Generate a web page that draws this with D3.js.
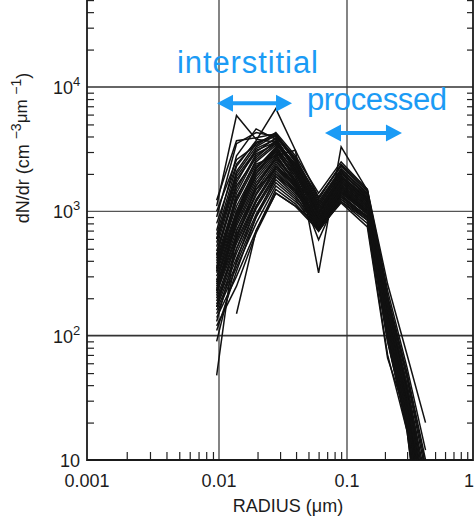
<!DOCTYPE html>
<html>
<head>
<meta charset="utf-8">
<script src="https://cdn.jsdelivr.net/npm/d3@7"></script>
<style>
  body { margin: 0; background: #fff; }
  svg { display: block; }
  text { font-family: "Liberation Sans", Arial, Helvetica, sans-serif; fill: #1c1c1c; }
</style>
</head>
<body>
<svg id="chart" width="474" height="516"></svg>
<script>
// radius bins (um)
const radius = [0.0096, 0.0137, 0.0195, 0.0278, 0.0395, 0.06, 0.09, 0.145, 0.21, 0.3, 0.42];

// dN/dr for every sample, one row per size distribution (null = no value)
const samples = [
  [1230, 3700, 3900, 4200, 2600, 1200, 2200, 1400, 200, 45, 8],
  [1100, 5900, 3800, 3600, 2400, 1100, 2000, 1350, 180, 38, 6],
  [900, 3500, 4300, 4000, 2500, 1150, 2100, 1300, 170, 35, 5],
  [700, 2800, 4600, 3800, 2300, 1050, 1900, 1250, 160, 30, 4],
  [650, 2300, 3700, 6700, 3100, 1300, 2300, 1450, 210, 50, 10],
  [600, 2000, 3300, 4100, 2700, 1250, 2400, 1500, 260, 70, 20],
  [520, 1800, 3000, 3900, 2200, 950, 1800, 1200, 150, 28, 3],
  [480, 1600, 2700, 3700, 2100, 900, 1700, 1150, 140, 26, 3],
  [450, 1500, 2900, 3500, 2300, 1000, 1850, 1250, 155, 30, 4],
  [420, 1300, 2500, 3400, 2000, 850, 1600, 1100, 130, 24, 2],
  [400, 1200, 2400, 2800, 3100, 320, 3300, 1480, 190, 40, 7],
  [380, 1100, 2200, 3200, 1900, 800, 1550, 1050, 120, 22, 2],
  [360, 1000, 2100, 3100, 1800, 590, 1500, 1000, 115, 20, 2],
  [340, 950, 2000, 3000, 1900, 750, 1450, 1000, 110, 20, 2],
  [320, 900, 1900, 2900, 1700, 720, 1400, 950, 105, 19, 1.5],
  [300, 850, 1800, 2800, 1750, 780, 1500, 1020, 125, 24, 3],
  [280, 800, 1700, 2700, 1700, 700, 1350, 900, 100, 18, 1.5],
  [260, 760, 1600, 2600, 1600, 820, 1600, 1080, 135, 27, 3.5],
  [250, 700, 1500, 2500, 1650, 760, 1450, 980, 120, 23, 2.5],
  [240, 650, 1400, 2400, 1550, 740, 1400, 960, 110, 21, 2],
  [230, 620, 1350, 2300, 1600, 880, 1650, 1120, 145, 30, 4],
  [220, 580, 1250, 2200, 1500, 700, 1300, 920, 100, 19, 1.5],
  [200, 550, 1200, 2100, 1450, 710, 1250, 880, 95, 17, 1.2],
  [190, 500, 1100, 2000, 1400, 850, 1550, 1050, 130, 26, 3],
  [180, 460, 1050, 1900, 1350, 720, 1200, 800, 70, 17, 1],
  [170, 420, 950, 1800, 1300, 760, 1350, 900, 90, 20, 2],
  [160, 380, 900, 1700, 1250, 690, 1250, 850, 90, 18, 1.5],
  [150, 355, 800, 1600, 1200, 800, 1450, 950, 115, 22, 2.5],
  [140, 300, 700, 1500, 1150, 720, 1170, 750, 66, 22, 6],
  [120, 250, 670, 1400, 1100, 780, 1300, 880, 100, 20, 2],
  [48, 700, 1500, 2200, 1600, 900, 1700, 1150, 150, 30, 4],
  [90, 400, 1100, 2000, 1500, 850, 1600, 1100, 140, 28, 3],
  [null, 150, 700, 1400, 1100, 700, 1200, 850, 95, 19, 1.5],
  [1000, 2600, 3400, 4300, 2800, 1400, 2500, 1500, 230, 55, 12],
  [800, 2400, 3600, 4000, 2600, 1300, 2350, 1450, 200, 48, 9],
  [560, 1900, 3100, 3600, 2400, 1100, 2050, 1350, 175, 36, 5],
  [130, 500, 1200, 2300, 1700, 950, 1800, 1200, 160, 32, 4],
  [210, 850, 2000, 3200, 2100, 1000, 1900, 1250, 165, 33, 4.5],
  [330, 1250, 2600, 3500, 2200, 1050, 1950, 1280, 170, 34, 5],
  [270, 1000, 2300, 3000, 2000, 950, 1750, 1180, 150, 29, 3.5],
  [350, 1400, 2800, 3600, 2150, 980, 1880, 1220, 145, 27, 3],
  [230, 900, 2200, 3300, 2050, 900, 1700, 1150, 135, 25, 2.5],
  [170, 600, 1600, 2700, 1800, 820, 1500, 1050, 120, 24, 2.5],
  [440, 1700, 3200, 3800, 2300, 1000, 1900, 1300, 165, 32, 4],
  [110, 330, 900, 1900, 1450, 800, 1400, 1000, 110, 21, 2],
  [600, 2100, 3500, 4200, 2500, 1150, 2150, 1380, 185, 40, 6]
];

// axis labels
const xTickValues = [0.001, 0.01, 0.1, 1];
const xTickLabels = ["0.001", "0.01", "0.1", "1"];
const yTickValues = [10, 100, 1000, 10000];
const yTickExp = [null, "2", "3", "4"];
const gridValuesY = [100, 1000, 10000];
const gridValuesX = [0.01, 0.1];

// annotations: [label, x, y, width px] and arrows [x1, x2, y] in data units
const annoLabels = [["interstitial", 0.0048, 12900, 141], ["processed", 0.0487, 6500, 140]];
const annoArrows = [[0.00966, 0.0372, 7400], [0.0673, 0.273, 4260]];

const svg = d3.select("#chart");
const mLeft = 87, mBottom = 460, mRight = 473, mTop = 0;

let x = d3.scaleLog().domain([0.001, 0.01, 0.1, 1]).range([87, 219, 347, 473]);
let y = d3.scaleLog().domain([10, 10000]).range([460, 87]);
let yMax = y.invert(mTop);

// grid
svg.append("g").selectAll("line").data(gridValuesY).join("line")
  .attr("x1", mLeft).attr("x2", mRight)
  .attr("y1", d => y(d)).attr("y2", d => y(d))
  .attr("stroke", d => d === 1000 ? "#555" : "#333")
  .attr("stroke-width", d => d === 1000 ? 1.2 : 1.7);

svg.append("g").selectAll("line").data(gridValuesX).join("line")
  .attr("x1", d => x(d)).attr("x2", d => x(d))
  .attr("y1", mTop).attr("y2", mBottom)
  .attr("stroke", "#333").attr("stroke-width", 1.2);

// minor ticks
let minorX = [];
[0.001, 0.01, 0.1].forEach(dec => { for (let k = 2; k <= 9; k++) minorX.push(k * dec); });
let minorY = [];
[10, 100, 1000, 10000].forEach(dec => { for (let k = 2; k <= 9; k++) if (k * dec < yMax) minorY.push(k * dec); });

svg.append("g")
  .attr("transform", `translate(0,${mBottom})`)
  .call(d3.axisBottom(x).tickValues(minorX).tickSize(-8).tickFormat(""))
  .call(g => g.select(".domain").remove())
  .selectAll("line").attr("stroke", "#222").attr("stroke-width", 1.2);

svg.append("g")
  .attr("transform", `translate(${mLeft},0)`)
  .call(d3.axisLeft(y).tickValues(minorY).tickSize(-7).tickFormat(""))
  .call(g => g.select(".domain").remove())
  .selectAll("line").attr("stroke", "#222").attr("stroke-width", 1.2);

svg.append("g")
  .attr("transform", `translate(${mRight},0)`)
  .call(d3.axisRight(y).tickValues(minorY).tickSize(-6).tickFormat(""))
  .call(g => g.select(".domain").remove())
  .selectAll("line").attr("stroke", "#222").attr("stroke-width", 1.2);

// frame
svg.append("path")
  .attr("d", `M${mLeft},${mTop}V${mBottom}H${mRight}V${mTop}`)
  .attr("fill", "none").attr("stroke", "#1a1a1a").attr("stroke-width", 1.8);

// data lines
svg.append("clipPath").attr("id", "plotclip")
  .append("rect").attr("x", mLeft).attr("y", mTop).attr("width", mRight - mLeft).attr("height", mBottom - mTop);

let line = d3.line()
  .defined(d => d != null)
  .x((d, i) => x(radius[i]))
  .y(d => y(d));

svg.append("g").attr("clip-path", "url(#plotclip)")
  .selectAll("path").data(samples).join("path")
  .attr("d", line)
  .attr("fill", "none")
  .attr("stroke", "#111")
  .attr("stroke-width", 1.5)
  .attr("stroke-linejoin", "miter");

// x tick labels
svg.append("g").selectAll("text").data(xTickValues).join("text")
  .attr("x", d => d === 1 ? 474 : x(d)).attr("y", 487)
  .attr("text-anchor", d => d === 1 ? "end" : "middle")
  .attr("font-size", 18)
  .text((d, i) => xTickLabels[i]);

// y tick labels
let yl = svg.append("g").selectAll("text").data(yTickValues).join("text")
  .attr("x", (d, i) => yTickExp[i] ? 53 : 60)
  .attr("y", d => y(d) + 7)
  .attr("font-size", 18);
yl.append("tspan").text("10");
yl.filter((d, i) => yTickExp[i]).append("tspan")
  .attr("dy", -8).attr("font-size", 13)
  .text((d) => yTickExp[yTickValues.indexOf(d)]);

// axis titles
svg.append("text")
  .attr("x", 288).attr("y", 512)
  .attr("text-anchor", "middle").attr("font-size", 18)
  .text("RADIUS (\u03bcm)");

let yt = svg.append("text")
  .attr("transform", "translate(29,148) rotate(-90)")
  .attr("text-anchor", "middle").attr("font-size", 18);
yt.append("tspan").text("dN/dr (cm ");
yt.append("tspan").attr("dy", -8).attr("font-size", 14).text("\u22123");
yt.append("tspan").attr("dy", 6).attr("font-size", 17).text("\u03bcm ");
yt.append("tspan").attr("dy", -6).attr("font-size", 14).text("\u22121");
yt.append("tspan").attr("dy", 8).text(")");

// annotations
const blue = "#1b9bf5";
svg.append("g").selectAll("text").data(annoLabels).join("text")
  .attr("x", d => x(d[1])).attr("y", d => y(d[2]))
  .attr("font-family", "Inter, 'Noto Sans', sans-serif")
  .attr("font-size", 31)
  .attr("textLength", d => d[3])
  .attr("lengthAdjust", "spacing")
  .style("fill", blue)
  .text(d => d[0]);

function arrowPath(x1, x2, yy) {
  let h = 16, w = 8.5, t = 2;
  return `M${x1},${yy}L${x1 + h},${yy - w}L${x1 + h},${yy - t}L${x2 - h},${yy - t}L${x2 - h},${yy - w}` +
    `L${x2},${yy}L${x2 - h},${yy + w}L${x2 - h},${yy + t}L${x1 + h},${yy + t}L${x1 + h},${yy + w}Z`;
}
svg.append("g").selectAll("path").data(annoArrows).join("path")
  .attr("d", d => arrowPath(x(d[0]), x(d[1]), y(d[2])))
  .attr("fill", blue);
</script>
</body>
</html>
